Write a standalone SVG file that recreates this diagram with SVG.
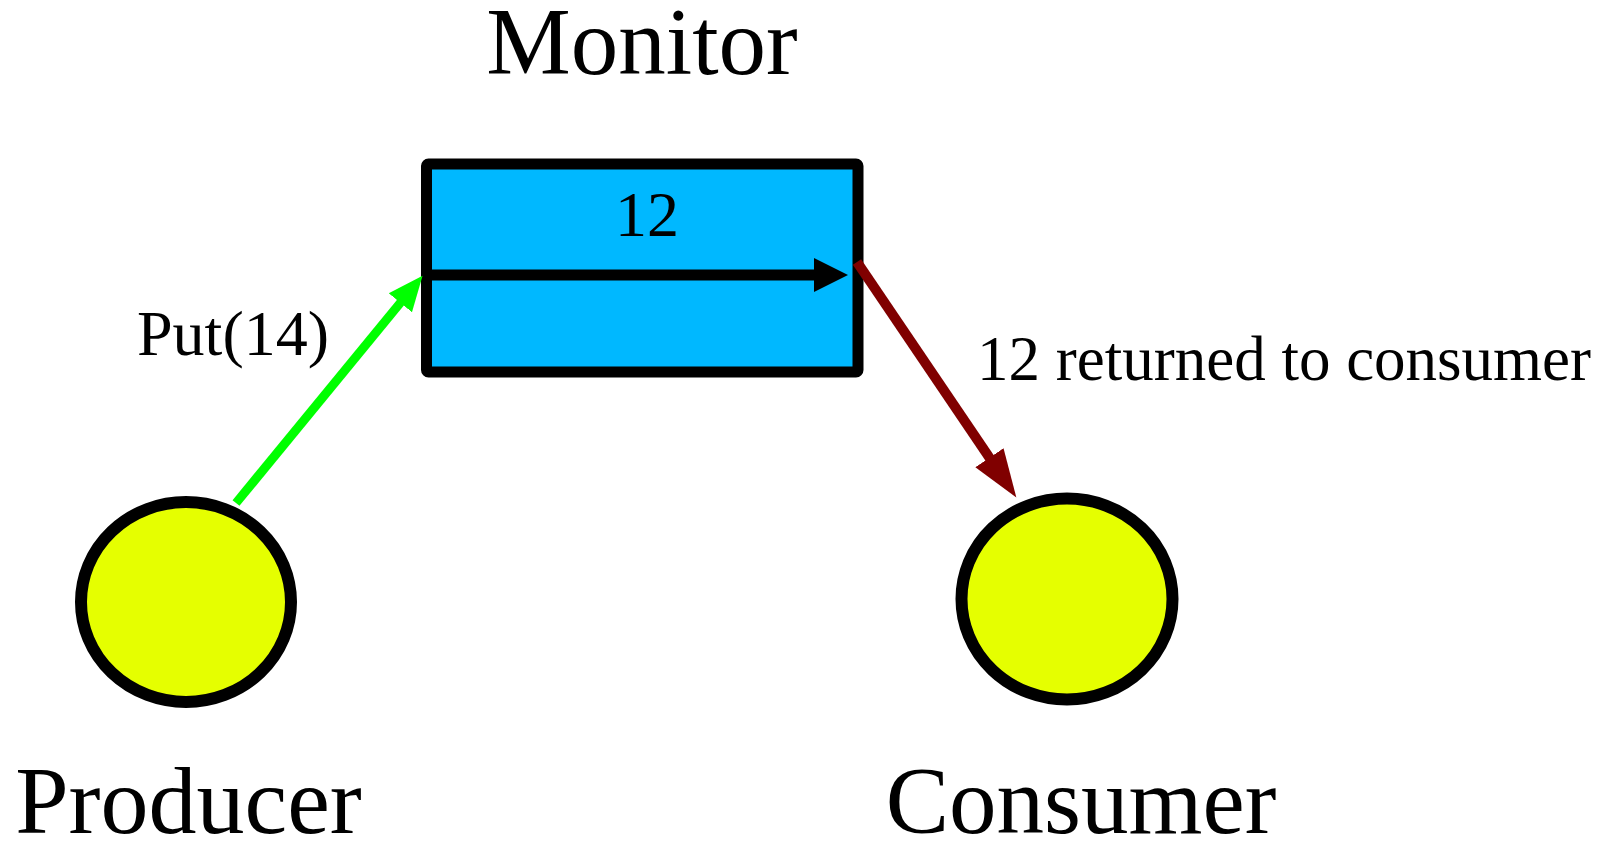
<svg xmlns="http://www.w3.org/2000/svg" width="1611" height="842" viewBox="0 0 1611 842">
<style>
text{font-family:"Liberation Serif","Times New Roman",serif;fill:#000}
.node{stroke:#000;stroke-width:12}
.yellow{fill:#E5FF00}
.box{fill:#00B8FF;stroke:#000;stroke-width:11;stroke-linejoin:round}
.big{font-size:95px}
.mid{font-size:63px}
</style>
<defs>
<marker id="ahGreen" markerUnits="userSpaceOnUse" viewBox="0 -16 36 32" markerWidth="36" markerHeight="32" refX="1" refY="0" orient="auto"><path d="M0,-15 L35,0 L0,15 z" fill="#00FF00"/></marker>
<marker id="ahRed" markerUnits="userSpaceOnUse" viewBox="0 -18 49 36" markerWidth="49" markerHeight="36" refX="1" refY="0" orient="auto"><path d="M0,-17 L48,0 L0,17 z" fill="#800000"/></marker>
<marker id="ahBlack" markerUnits="userSpaceOnUse" viewBox="0 -18 35 36" markerWidth="35" markerHeight="36" refX="1" refY="0" orient="auto"><path d="M0,-17 L34,0 L0,17 z" fill="#000"/></marker>
</defs>
<g id="monitor">
<rect class="box" x="426.5" y="164" width="431.5" height="208" rx="2"/>
<text x="647" y="236" font-size="64" text-anchor="middle">12</text>
<text class="big" x="642" y="74" text-anchor="middle">Monitor</text>
</g>
<g id="producer">
<ellipse class="node yellow" cx="186" cy="602" rx="105" ry="100"/>
<text x="188.5" y="833" font-size="96" text-anchor="middle">Producer</text>
</g>
<g id="consumer">
<ellipse class="node yellow" cx="1067" cy="599" rx="105.5" ry="100.5"/>
<text class="big" x="1081" y="833" text-anchor="middle">Consumer</text>
</g>
<g id="connectors" fill="none">
<path d="M426,275 L815,275" stroke="#000" stroke-width="11" marker-end="url(#ahBlack)"/>
<path d="M236,503 L401,302" stroke="#00FF00" stroke-width="9" marker-end="url(#ahGreen)"/>
<path d="M857,262 L990,458.5" stroke="#800000" stroke-width="10" marker-end="url(#ahRed)"/>
</g>
<g id="labels">
<text x="137" y="355" font-size="64">Put(14)</text>
<text class="mid" x="977" y="380">12 returned to consumer</text>
</g>
</svg>
